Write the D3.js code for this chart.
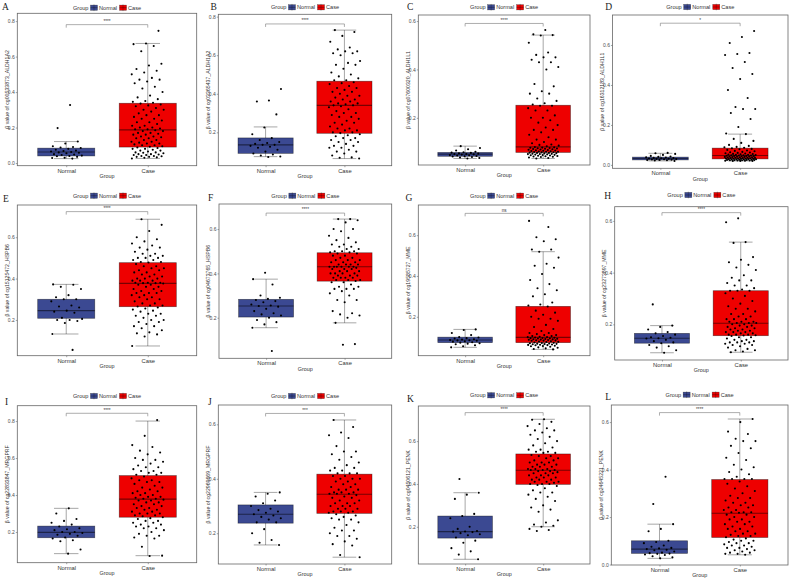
<!DOCTYPE html>
<html>
<head>
<meta charset="utf-8">
<style>
  body { margin: 0; background: #fff; }
  svg { display: block; font-family: "Liberation Sans", Arial, sans-serif; }
</style>
</head>
<body>
<svg width="793" height="581"></svg>
<script src="https://d3js.org/d3.v7.min.js"></script>
<script>
// ---------- data ----------
const panelIds = ["A", "B", "C", "D", "E", "F", "G", "H", "I", "J", "K", "L"];
const probes = ["cg00533873_ALDH1A2", "cg03365437_ALDH1A2", "cg07600320_ALDH1L1", "cg16312183_ALDH1L1",
  "cg15125472_HSPB6", "cg04673765_HSPB6", "cg19585727_MME", "cg23273897_MME",
  "cg22833847_MRGPRF", "cg22969669_MRGPRF", "cg04506121_PENK", "cg24645221_PENK"];
const signif = ["****", "****", "****", "*", "****", "****", "ns", "****", "****", "***", "****", "****"];
const groups = ["Normal", "Case"];

// y range shown on each panel
const yDomains = [[-0.015, 0.844], [0.027, 0.812], [0.005, 0.625], [-0.017, 0.75],
  [0.027, 0.756], [0.017, 0.713], [0.009, 0.748], [0.062, 0.655],
  [0.034, 0.883], [0.087, 0.671], [0.026, 0.764], [-0.002, 0.672]];
const bracketY = [0.78, 0.762, 0.59, 0.709, 0.724, 0.672, 0.707, 0.632, 0.842, 0.64, 0.733, 0.64];

// [lower whisker, q1, median, q3, upper whisker]
const normalBox = [
  [0.025, 0.04, 0.062, 0.084, 0.121], [0.074, 0.091, 0.135, 0.171, 0.228],
  [0.032, 0.041, 0.05, 0.057, 0.083], [0.02, 0.025, 0.032, 0.039, 0.058],
  [0.132, 0.208, 0.245, 0.30, 0.372], [0.155, 0.203, 0.253, 0.283, 0.374],
  [0.05, 0.073, 0.086, 0.10, 0.138], [0.09, 0.127, 0.146, 0.165, 0.195],
  [0.083, 0.169, 0.198, 0.232, 0.328], [0.157, 0.237, 0.27, 0.304, 0.35],
  [0.048, 0.147, 0.177, 0.25, 0.359], [0.026, 0.047, 0.065, 0.10, 0.17]];
const caseBox = [
  [0.026, 0.09, 0.187, 0.337, 0.674], [0.064, 0.195, 0.34, 0.465, 0.73],
  [0.032, 0.057, 0.08, 0.252, 0.542], [0.02, 0.03, 0.047, 0.084, 0.154],
  [0.074, 0.264, 0.377, 0.477, 0.687], [0.177, 0.365, 0.43, 0.493, 0.645],
  [0.04, 0.073, 0.099, 0.251, 0.519], [0.092, 0.156, 0.204, 0.33, 0.518],
  [0.072, 0.28, 0.378, 0.505, 0.80], [0.112, 0.273, 0.343, 0.417, 0.616],
  [0.2, 0.398, 0.464, 0.54, 0.702], [0.041, 0.114, 0.216, 0.358, 0.613]];

const normalPts = [
  [0.327, 0.197, 0.121, 0.11, 0.095, 0.09, 0.088, 0.085, 0.08, 0.075, 0.07, 0.068, 0.065, 0.062, 0.06, 0.058, 0.055, 0.05, 0.048, 0.045, 0.042, 0.04, 0.038, 0.035, 0.03, 0.028, 0.025],
  [0.425, 0.365, 0.36, 0.293, 0.225, 0.19, 0.17, 0.16, 0.15, 0.145, 0.14, 0.135, 0.135, 0.13, 0.125, 0.12, 0.11, 0.1, 0.09, 0.085, 0.08, 0.075, 0.072],
  [0.083, 0.075, 0.07, 0.065, 0.06, 0.058, 0.056, 0.055, 0.053, 0.052, 0.05, 0.05, 0.049, 0.048, 0.046, 0.045, 0.044, 0.042, 0.041, 0.04, 0.038, 0.036, 0.034, 0.032],
  [0.06, 0.058, 0.055, 0.05, 0.045, 0.042, 0.04, 0.038, 0.037, 0.035, 0.034, 0.033, 0.032, 0.031, 0.03, 0.029, 0.028, 0.027, 0.026, 0.025, 0.024, 0.023, 0.022, 0.02],
  [0.372, 0.37, 0.36, 0.35, 0.32, 0.31, 0.3, 0.3, 0.29, 0.27, 0.265, 0.26, 0.245, 0.24, 0.235, 0.21, 0.205, 0.2, 0.2, 0.195, 0.185, 0.132, 0.055],
  [0.403, 0.374, 0.35, 0.3, 0.29, 0.285, 0.28, 0.275, 0.27, 0.26, 0.255, 0.253, 0.25, 0.24, 0.23, 0.22, 0.215, 0.21, 0.2, 0.19, 0.18, 0.17, 0.155, 0.05],
  [0.138, 0.135, 0.12, 0.11, 0.1, 0.098, 0.095, 0.093, 0.09, 0.088, 0.086, 0.085, 0.084, 0.082, 0.08, 0.078, 0.075, 0.073, 0.07, 0.068, 0.065, 0.06, 0.055, 0.05],
  [0.277, 0.195, 0.19, 0.18, 0.17, 0.165, 0.16, 0.155, 0.15, 0.148, 0.146, 0.145, 0.14, 0.135, 0.13, 0.127, 0.12, 0.115, 0.11, 0.1, 0.09],
  [0.328, 0.3, 0.27, 0.26, 0.25, 0.24, 0.23, 0.22, 0.215, 0.21, 0.2, 0.2, 0.195, 0.19, 0.185, 0.18, 0.17, 0.165, 0.155, 0.15, 0.105, 0.083],
  [0.35, 0.345, 0.335, 0.32, 0.31, 0.3, 0.29, 0.285, 0.28, 0.275, 0.27, 0.265, 0.26, 0.255, 0.25, 0.24, 0.24, 0.215, 0.2, 0.175, 0.165, 0.157],
  [0.423, 0.359, 0.35, 0.33, 0.26, 0.25, 0.24, 0.2, 0.19, 0.18, 0.178, 0.177, 0.175, 0.17, 0.165, 0.16, 0.15, 0.135, 0.125, 0.1, 0.085, 0.07, 0.048],
  [0.37, 0.255, 0.17, 0.15, 0.14, 0.1, 0.095, 0.09, 0.08, 0.075, 0.07, 0.068, 0.065, 0.062, 0.06, 0.055, 0.05, 0.048, 0.046, 0.045, 0.042, 0.04, 0.035, 0.03, 0.026]];

const casePts = [
  [0.745, 0.674, 0.67, 0.66, 0.63, 0.56, 0.55, 0.53, 0.52, 0.51, 0.5, 0.48, 0.47, 0.47, 0.46, 0.45, 0.43, 0.42, 0.4, 0.38, 0.37, 0.36, 0.35, 0.345, 0.34,
   0.335, 0.33, 0.325, 0.32, 0.31, 0.3, 0.3, 0.29, 0.28, 0.27, 0.27, 0.26, 0.25, 0.25, 0.24, 0.23, 0.23, 0.22, 0.21, 0.21, 0.2, 0.2, 0.195, 0.19, 0.19,
   0.185, 0.18, 0.18, 0.17, 0.17, 0.165, 0.16, 0.16, 0.15, 0.15, 0.145, 0.14, 0.14, 0.13, 0.13, 0.12, 0.12, 0.115, 0.11, 0.11, 0.105, 0.1, 0.1, 0.095, 0.092,
   0.088, 0.085, 0.08, 0.08, 0.075, 0.07, 0.07, 0.065, 0.06, 0.06, 0.058, 0.055, 0.05, 0.05, 0.048, 0.045, 0.045, 0.04, 0.04, 0.038, 0.035, 0.035, 0.032, 0.03, 0.026],
  [0.73, 0.72, 0.7, 0.67, 0.64, 0.63, 0.62, 0.62, 0.61, 0.61, 0.6, 0.57, 0.56, 0.55, 0.55, 0.53, 0.51, 0.5, 0.49, 0.48, 0.47, 0.47,
   0.46, 0.455, 0.45, 0.44, 0.43, 0.43, 0.42, 0.41, 0.41, 0.4, 0.39, 0.39, 0.38, 0.37, 0.37, 0.36, 0.36, 0.35, 0.35, 0.345, 0.34, 0.34,
   0.335, 0.33, 0.32, 0.31, 0.3, 0.3, 0.29, 0.28, 0.28, 0.27, 0.26, 0.25, 0.25, 0.24, 0.23, 0.22, 0.22, 0.21, 0.21, 0.2, 0.2, 0.196,
   0.19, 0.185, 0.18, 0.17, 0.17, 0.16, 0.16, 0.15, 0.15, 0.14, 0.13, 0.13, 0.12, 0.12, 0.11, 0.1, 0.1, 0.09, 0.08, 0.07, 0.068, 0.064],
  [0.563, 0.545, 0.542, 0.54, 0.51, 0.47, 0.46, 0.45, 0.45, 0.44, 0.43, 0.43, 0.41, 0.4, 0.34, 0.33, 0.31, 0.3, 0.3, 0.28, 0.27, 0.26, 0.255, 0.25,
   0.25, 0.24, 0.23, 0.23, 0.21, 0.2, 0.2, 0.19, 0.18, 0.17, 0.16, 0.15, 0.15, 0.14, 0.13, 0.12, 0.11, 0.11, 0.1, 0.095, 0.09, 0.088, 0.085, 0.082,
   0.079, 0.078, 0.077, 0.076, 0.075, 0.074, 0.073, 0.072, 0.071, 0.07, 0.069, 0.068, 0.067, 0.066, 0.065, 0.064, 0.063, 0.062, 0.061, 0.06, 0.06, 0.059, 0.058, 0.057,
   0.056, 0.055, 0.055, 0.054, 0.053, 0.052, 0.051, 0.05, 0.05, 0.049, 0.048, 0.047, 0.046, 0.045, 0.044, 0.043, 0.042, 0.041, 0.04, 0.039, 0.038, 0.036, 0.034, 0.032],
  [0.67, 0.64, 0.61, 0.56, 0.555, 0.55, 0.515, 0.485, 0.455, 0.43, 0.375, 0.335, 0.29, 0.28, 0.28, 0.26, 0.23, 0.19, 0.157,
   0.154, 0.13, 0.12, 0.11, 0.1, 0.095, 0.09, 0.088, 0.086,
   0.083, 0.08, 0.078, 0.075, 0.072, 0.07, 0.068, 0.065, 0.063, 0.062, 0.06, 0.058, 0.057, 0.055, 0.054, 0.053, 0.052, 0.051, 0.05, 0.049, 0.048, 0.048, 0.047, 0.047,
   0.046, 0.045, 0.045, 0.044, 0.043, 0.042, 0.042, 0.041, 0.04, 0.04, 0.039, 0.038, 0.038, 0.037, 0.036, 0.036, 0.035, 0.034, 0.034, 0.033, 0.032, 0.032, 0.031, 0.031, 0.03,
   0.03, 0.029, 0.029, 0.028, 0.028, 0.027, 0.027, 0.026, 0.026, 0.025, 0.025, 0.024, 0.024, 0.023, 0.023, 0.022, 0.022, 0.021, 0.021, 0.02, 0.02, 0.02],
  [0.687, 0.66, 0.63, 0.6, 0.59, 0.58, 0.57, 0.56, 0.55, 0.55, 0.54, 0.53, 0.52, 0.52, 0.51, 0.51, 0.5, 0.5, 0.5, 0.49, 0.49, 0.48, 0.48, 0.478,
   0.47, 0.46, 0.46, 0.45, 0.45, 0.44, 0.44, 0.43, 0.43, 0.42, 0.42, 0.41, 0.41, 0.4, 0.4, 0.4, 0.39, 0.39, 0.39, 0.38, 0.38, 0.38, 0.378, 0.378,
   0.376, 0.37, 0.37, 0.36, 0.36, 0.35, 0.35, 0.34, 0.34, 0.33, 0.33, 0.33, 0.32, 0.32, 0.31, 0.31, 0.3, 0.3, 0.29, 0.28, 0.28, 0.27, 0.27, 0.265,
   0.26, 0.255, 0.25, 0.245, 0.24, 0.23, 0.23, 0.22, 0.22, 0.21, 0.2, 0.2, 0.19, 0.19, 0.18, 0.17, 0.17, 0.16, 0.15, 0.14, 0.135, 0.13, 0.12, 0.074],
  [0.645, 0.645, 0.64, 0.63, 0.6, 0.6, 0.59, 0.57, 0.56, 0.55, 0.54, 0.53, 0.53, 0.52, 0.52, 0.51, 0.51, 0.5, 0.5, 0.5, 0.495, 0.495,
   0.49, 0.49, 0.48, 0.48, 0.47, 0.47, 0.46, 0.46, 0.46, 0.45, 0.45, 0.45, 0.44, 0.44, 0.44, 0.44, 0.43, 0.43, 0.43, 0.43, 0.43, 0.43,
   0.425, 0.42, 0.42, 0.42, 0.41, 0.41, 0.41, 0.4, 0.4, 0.4, 0.4, 0.39, 0.39, 0.39, 0.38, 0.38, 0.38, 0.38, 0.37, 0.37, 0.37, 0.366,
   0.36, 0.36, 0.35, 0.34, 0.34, 0.33, 0.33, 0.33, 0.32, 0.31, 0.3, 0.28, 0.28, 0.27, 0.23, 0.22, 0.215, 0.21, 0.2, 0.177, 0.081, 0.078],
  [0.67, 0.64, 0.59, 0.58, 0.57, 0.53, 0.53, 0.519, 0.49, 0.46, 0.45, 0.44, 0.41, 0.38, 0.36, 0.34, 0.33, 0.31, 0.3, 0.27, 0.26, 0.255,
   0.25, 0.23, 0.22, 0.21, 0.2, 0.19, 0.19, 0.18, 0.16, 0.15, 0.14, 0.13, 0.12, 0.12, 0.115, 0.11, 0.11, 0.105, 0.105, 0.102, 0.1, 0.1,
   0.098, 0.097, 0.096, 0.095, 0.094, 0.093, 0.092, 0.091, 0.09, 0.089, 0.088, 0.087, 0.086, 0.085, 0.084, 0.083, 0.082, 0.08, 0.079, 0.077, 0.076, 0.074,
   0.072, 0.071, 0.07, 0.069, 0.068, 0.067, 0.066, 0.065, 0.064, 0.063, 0.062, 0.061, 0.06, 0.058, 0.056, 0.055, 0.053, 0.05, 0.048, 0.045, 0.042, 0.04],
  [0.61, 0.595, 0.518, 0.515, 0.46, 0.45, 0.44, 0.43, 0.42, 0.41, 0.39, 0.38, 0.37, 0.37, 0.36, 0.35, 0.35, 0.34, 0.335, 0.33, 0.33, 0.33,
   0.32, 0.31, 0.3, 0.29, 0.28, 0.27, 0.26, 0.26, 0.25, 0.24, 0.24, 0.23, 0.23, 0.22, 0.22, 0.22, 0.21, 0.21, 0.21, 0.205, 0.205, 0.205,
   0.2, 0.2, 0.195, 0.195, 0.19, 0.19, 0.185, 0.185, 0.18, 0.18, 0.175, 0.175, 0.17, 0.17, 0.17, 0.165, 0.165, 0.16, 0.16, 0.16, 0.158, 0.157,
   0.155, 0.15, 0.15, 0.145, 0.14, 0.14, 0.135, 0.135, 0.13, 0.13, 0.13, 0.125, 0.125, 0.12, 0.12, 0.115, 0.11, 0.105, 0.1, 0.1, 0.095, 0.092],
  [0.805, 0.72, 0.67, 0.66, 0.64, 0.63, 0.62, 0.6, 0.59, 0.59, 0.58, 0.57, 0.56, 0.55, 0.55, 0.54, 0.53, 0.53, 0.52, 0.52, 0.51, 0.51,
   0.5, 0.49, 0.48, 0.48, 0.47, 0.47, 0.46, 0.45, 0.44, 0.44, 0.43, 0.42, 0.42, 0.41, 0.41, 0.4, 0.4, 0.39, 0.39, 0.385, 0.38, 0.38,
   0.375, 0.37, 0.37, 0.36, 0.36, 0.35, 0.35, 0.34, 0.34, 0.33, 0.33, 0.32, 0.32, 0.31, 0.31, 0.3, 0.3, 0.3, 0.29, 0.29, 0.285, 0.28,
   0.275, 0.27, 0.26, 0.26, 0.25, 0.25, 0.24, 0.24, 0.23, 0.23, 0.22, 0.22, 0.21, 0.2, 0.19, 0.18, 0.18, 0.17, 0.165, 0.12, 0.072, 0.07],
  [0.616, 0.59, 0.57, 0.56, 0.55, 0.52, 0.5, 0.5, 0.49, 0.48, 0.47, 0.46, 0.45, 0.44, 0.44, 0.43, 0.43, 0.42, 0.42, 0.42,
   0.41, 0.41, 0.4, 0.4, 0.4, 0.39, 0.39, 0.38, 0.38, 0.37, 0.37, 0.36, 0.36, 0.36, 0.35, 0.35, 0.35, 0.345, 0.345, 0.345,
   0.34, 0.335, 0.33, 0.33, 0.32, 0.32, 0.31, 0.31, 0.31, 0.3, 0.3, 0.3, 0.29, 0.29, 0.29, 0.28, 0.28, 0.28, 0.275, 0.275,
   0.27, 0.265, 0.26, 0.255, 0.25, 0.25, 0.24, 0.23, 0.22, 0.21, 0.21, 0.2, 0.19, 0.19, 0.18, 0.17, 0.16, 0.155, 0.12, 0.112],
  [0.702, 0.7, 0.69, 0.68, 0.67, 0.66, 0.65, 0.65, 0.64, 0.63, 0.62, 0.61, 0.6, 0.59, 0.58, 0.57, 0.56, 0.56, 0.55, 0.55, 0.545, 0.545,
   0.535, 0.53, 0.53, 0.52, 0.52, 0.51, 0.51, 0.5, 0.5, 0.5, 0.49, 0.49, 0.49, 0.48, 0.48, 0.48, 0.47, 0.47, 0.47, 0.465, 0.465, 0.465,
   0.46, 0.46, 0.455, 0.45, 0.45, 0.45, 0.44, 0.44, 0.44, 0.43, 0.43, 0.43, 0.42, 0.42, 0.42, 0.41, 0.41, 0.41, 0.405, 0.4, 0.4, 0.4,
   0.395, 0.39, 0.38, 0.37, 0.36, 0.36, 0.35, 0.34, 0.33, 0.32, 0.3, 0.29, 0.28, 0.27, 0.23, 0.22, 0.21, 0.205, 0.2, 0.19, 0.185, 0.18],
  [0.613, 0.6, 0.56, 0.55, 0.53, 0.52, 0.52, 0.5, 0.49, 0.47, 0.45, 0.44, 0.42, 0.41, 0.4, 0.39, 0.38, 0.37, 0.36, 0.36, 0.36, 0.36,
   0.35, 0.34, 0.33, 0.32, 0.31, 0.3, 0.29, 0.28, 0.28, 0.27, 0.26, 0.26, 0.25, 0.25, 0.24, 0.24, 0.23, 0.23, 0.22, 0.22, 0.22, 0.218,
   0.21, 0.21, 0.2, 0.2, 0.19, 0.19, 0.18, 0.18, 0.17, 0.17, 0.16, 0.16, 0.15, 0.15, 0.14, 0.14, 0.13, 0.13, 0.125, 0.12, 0.12, 0.115,
   0.11, 0.105, 0.1, 0.1, 0.095, 0.09, 0.09, 0.085, 0.08, 0.08, 0.075, 0.07, 0.07, 0.065, 0.06, 0.06, 0.055, 0.05, 0.05, 0.045, 0.045, 0.041]];

// ---------- layout (pixels) ----------
// plot frame l, r, t, b ; panel letter position ; legend centre y
const layout = [
  { l: 17.3, r: 196.7, t: 13.3, b: 165.7, lx: 2, ly: 9.5, legY: 7.7 },
  { l: 218.3, r: 391.7, t: 14.3, b: 165.7, lx: 210.5, ly: 9.8, legY: 7.3 },
  { l: 418.3, r: 590, t: 15, b: 165, lx: 407, ly: 9.8, legY: 7.3 },
  { l: 612.5, r: 788, t: 15, b: 168.3, lx: 605.2, ly: 9.8, legY: 7 },
  { l: 17.3, r: 196.7, t: 205, b: 355.7, lx: 3, ly: 201.8, legY: 195.7 },
  { l: 219, r: 391.7, t: 204, b: 358.3, lx: 208, ly: 200.8, legY: 195.7 },
  { l: 418.3, r: 590, t: 205, b: 355.7, lx: 405.5, ly: 200.8, legY: 195.7 },
  { l: 614.7, r: 788, t: 206.7, b: 360, lx: 604.2, ly: 199.3, legY: 195 },
  { l: 17.3, r: 196.7, t: 405.7, b: 562.7, lx: 5, ly: 405.3, legY: 396 },
  { l: 218.3, r: 391.7, t: 405, b: 564, lx: 208, ly: 405.3, legY: 396 },
  { l: 418.3, r: 590, t: 406, b: 564, lx: 407, ly: 401.8, legY: 395.3 },
  { l: 611.3, r: 788, t: 405, b: 565, lx: 605.2, ly: 399.6, legY: 394.7 }];

const fillColor = d3.scaleOrdinal().domain(groups).range(["#3B4992", "#EE0000"]);
const lineColor = "rgba(0,0,0,0.5)";
const textGrey = "#4d4d4d";

const svg = d3.select("svg");
svg.append("rect").attr("width", 793).attr("height", 581).attr("fill", "#fff");

panelIds.forEach((id, i) => {
  const f = layout[i];
  const g = svg.append("g").attr("class", "panel-" + id);

  const x = d3.scalePoint().domain(groups).range([f.l, f.r]).padding(0.6);
  const y = d3.scaleLinear().domain(yDomains[i]).range([f.b, f.t]);
  const step = x.step();

  // axes
  const ticks = [0, 0.2, 0.4, 0.6, 0.8].filter(v => v >= yDomains[i][0] && v <= yDomains[i][1]);
  const yAxis = g.append("g").attr("transform", `translate(${f.l},0)`)
    .call(d3.axisLeft(y).tickValues(ticks).tickFormat(d3.format(".1f")).tickSize(1.5).tickPadding(1));
  const xAxis = g.append("g").attr("transform", `translate(0,${f.b})`)
    .call(d3.axisBottom(x).tickSize(1.5).tickPadding(1.2));
  [yAxis, xAxis].forEach(a => {
    a.select(".domain").remove();
    a.selectAll(".tick line").attr("stroke", "#666").attr("stroke-width", 0.6);
    a.selectAll("text").attr("fill", textGrey).style("font-family", "Liberation Sans, Arial, sans-serif");
  });
  yAxis.selectAll("text").style("font-size", "5px");
  xAxis.selectAll("text").style("font-size", "5.8px").attr("fill", "#333");

  // boxes with error-bar whiskers
  const boxes = [normalBox[i], caseBox[i]];
  groups.forEach((grp, k) => {
    const [lo, q1, med, q3, hi] = boxes[k];
    const cx = x(grp), bw = step * 0.7, cw = step * 0.3;
    const bg = g.append("g");
    bg.append("line").attr("x1", cx).attr("x2", cx).attr("y1", y(hi)).attr("y2", y(lo));
    bg.append("line").attr("x1", cx - cw / 2).attr("x2", cx + cw / 2).attr("y1", y(hi)).attr("y2", y(hi));
    bg.append("line").attr("x1", cx - cw / 2).attr("x2", cx + cw / 2).attr("y1", y(lo)).attr("y2", y(lo));
    bg.selectAll("line").attr("stroke", lineColor).attr("stroke-width", 0.7);
    bg.append("rect").attr("x", cx - bw / 2).attr("width", bw)
      .attr("y", y(q3)).attr("height", y(q1) - y(q3))
      .attr("fill", fillColor(grp)).attr("stroke", lineColor).attr("stroke-width", 0.7);
    bg.append("line").attr("x1", cx - bw / 2).attr("x2", cx + bw / 2).attr("y1", y(med)).attr("y2", y(med))
      .attr("stroke", lineColor).attr("stroke-width", 1.1);
  });

  // jittered points (fixed spread pattern, width 0.2)
  const pts = [];
  [normalPts[i], casePts[i]].forEach((vals, k) => {
    vals.forEach((v, j) => {
      const u = ((j + 1) * 0.6180339887 + i * 0.37 + k * 0.21) % 1;
      pts.push({ grp: groups[k], v, dx: (u - 0.5) * 0.4 });
    });
  });
  g.append("g").selectAll("circle").data(pts).join("circle")
    .attr("cx", d => x(d.grp) + d.dx * step)
    .attr("cy", d => y(d.v))
    .attr("r", 1.05)
    .attr("fill", "#000");

  // frame
  g.append("rect").attr("x", f.l).attr("y", f.t).attr("width", f.r - f.l).attr("height", f.b - f.t)
    .attr("fill", "none").attr("stroke", "#666").attr("stroke-width", 0.8);

  // significance bracket
  const by = y(bracketY[i]), x0 = x(groups[0]), x1 = x(groups[1]);
  g.append("path")
    .attr("d", `M${x0},${by + 3}V${by}H${x1}V${by + 3}`)
    .attr("fill", "none").attr("stroke", "#777").attr("stroke-width", 0.6);
  g.append("text").attr("x", (x0 + x1) / 2).attr("y", by - 1.6)
    .attr("text-anchor", "middle").style("font-size", "4.6px").attr("fill", "#333")
    .text(signif[i]);

  // axis titles
  g.append("text").attr("x", (f.l + f.r) / 2).attr("y", f.b + 12.2)
    .attr("text-anchor", "middle").style("font-size", "5.4px").attr("fill", "#333").text("Group");
  g.append("text")
    .attr("transform", `translate(${f.l - 10.5},${(f.t + f.b) / 2}) rotate(-90)`)
    .attr("dy", "0.35em").attr("text-anchor", "middle")
    .style("font-size", "5.2px").attr("fill", "#333")
    .text("β value of " + probes[i]);

  // panel letter
  g.append("text").attr("x", f.lx).attr("y", f.ly)
    .style("font-family", "Liberation Serif, Times New Roman, serif").style("font-size", "9.5px")
    .attr("fill", "#222").text(id);

  // legend
  const leg = g.append("g");
  let cur = 0;
  const addText = (s) => {
    const t = leg.append("text").attr("x", cur).attr("y", 0).attr("dy", "0.35em")
      .style("font-size", "5.6px").attr("fill", "#333").text(s);
    cur += t.node().getComputedTextLength();
  };
  addText("Group");
  groups.forEach((grp, k) => {
    cur += k === 0 ? 2 : 2.5;
    leg.append("rect").attr("x", cur).attr("y", -2.6).attr("width", 7).attr("height", 5.2)
      .attr("fill", fillColor(grp)).attr("stroke", lineColor).attr("stroke-width", 0.5);
    leg.append("line").attr("x1", cur + 3.5).attr("x2", cur + 3.5).attr("y1", -3.4).attr("y2", 3.4)
      .attr("stroke", lineColor).attr("stroke-width", 0.5);
    leg.append("line").attr("x1", cur).attr("x2", cur + 7).attr("y1", 0).attr("y2", 0)
      .attr("stroke", lineColor).attr("stroke-width", 0.6);
    cur += 8.5;
    addText(grp);
  });
  leg.attr("transform", `translate(${(f.l + f.r) / 2 - cur / 2},${f.legY})`);
});
</script>
</body>
</html>
